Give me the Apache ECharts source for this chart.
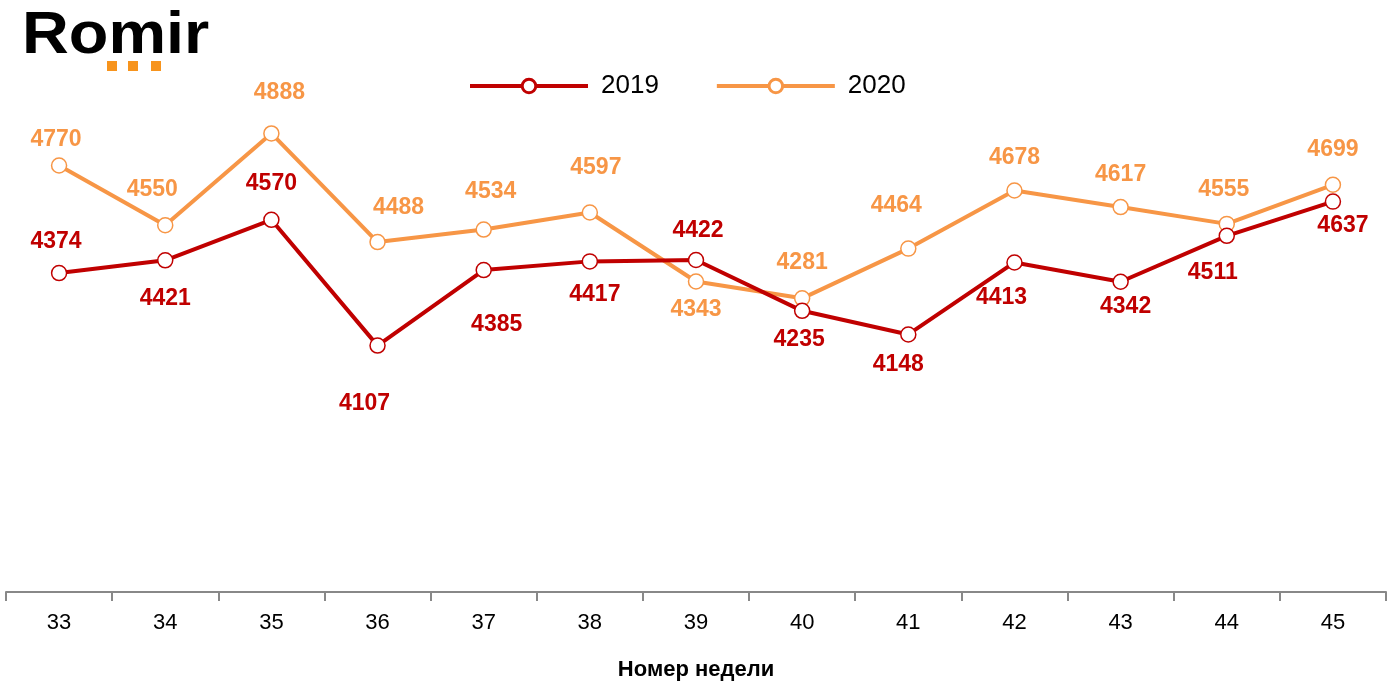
<!DOCTYPE html>
<html><head><meta charset="utf-8">
<script src="https://cdn.jsdelivr.net/npm/echarts@6/dist/echarts.min.js"></script>
<style>html,body{margin:0;padding:0;background:#fff}#c{width:1393px;height:699px}</style>
</head><body><div id="c"></div>
<script>
const weeks = ['33','34','35','36','37','38','39','40','41','42','43','44','45'];
const values2019 = [4374,4421,4570,4107,4385,4417,4422,4235,4148,4413,4342,4511,4637];
const values2020 = [4770,4550,4888,4488,4534,4597,4343,4281,4464,4678,4617,4555,4699];
const seriesNames = ['2019','2020'];
const axisTitle = 'Номер недели';

// label offsets (style only)
const off2019 = [[-3,-31],[0,38],[0,-36],[-13,58],[13,55],[5,33],[2,-29],[-3,29],[-10,30],[-13,35],[5,25],[-14,37],[10,24]];
const off2020 = [[-3,-26],[-13,-36],[8,-41],[21,-34],[7,-38],[6,-45],[0,28],[0,-36],[-12,-43],[0,-33],[0,-32],[-3,-34],[0,-35]];

const C19 = '#C00000', C20 = '#F79646';
function mk(vals, offs, color){
  return vals.map((v,i)=>({value:v,label:{show:true,position:'inside',offset:offs[i],color:color,fontWeight:'bold',fontSize:23,fontFamily:'Liberation Sans, Arial, sans-serif'}}));
}
const chart = echarts.init(document.getElementById('c'));
chart.setOption({
  animation:false,
  backgroundColor:'#fff',
  grid:{left:6,right:7,top:103,bottom:107},
  legend:{
    top:68,left:463,itemWidth:118,itemHeight:17,itemGap:56,
    lineStyle:{width:4},
    itemStyle:{borderWidth:3},
    textStyle:{fontSize:26,color:'#000',fontFamily:'Liberation Sans, Arial, sans-serif',padding:[0,0,0,8]},
    data:seriesNames
  },
  xAxis:{
    type:'category',data:weeks,boundaryGap:true,
    axisLine:{lineStyle:{color:'#888',width:2}},
    axisTick:{show:true,length:9,lineStyle:{color:'#888',width:2}},
    axisLabel:{color:'#000',fontSize:22,margin:20,fontFamily:'Liberation Sans, Arial, sans-serif'},
    name:axisTitle,nameLocation:'middle',nameGap:67,
    nameTextStyle:{fontSize:22,fontWeight:'bold',color:'#000',fontFamily:'Liberation Sans, Arial, sans-serif'}
  },
  yAxis:{type:'value',min:3200,max:5000,show:false,splitLine:{show:false}},
  series:[
    {name:seriesNames[0],type:'line',data:mk(values2019,off2019,C19),symbol:'circle',symbolSize:15,
     lineStyle:{color:C19,width:4},itemStyle:{color:'#fff',borderColor:C19,borderWidth:1.5},z:3},
    {name:seriesNames[1],type:'line',data:mk(values2020,off2020,C20),symbol:'circle',symbolSize:15,
     lineStyle:{color:C20,width:4},itemStyle:{color:'#fff',borderColor:C20,borderWidth:1.5},z:2}
  ],
  graphic:[
    {type:'text',left:22,top:6,style:{text:'Romir',font:'bold 60px "Liberation Sans", Arial, sans-serif',fill:'#000'},scaleX:1.08},
    {type:'rect',shape:{x:107,y:61,width:10,height:10},style:{fill:'#F7941D'}},
    {type:'rect',shape:{x:128,y:61,width:10,height:10},style:{fill:'#F7941D'}},
    {type:'rect',shape:{x:151,y:61,width:10,height:10},style:{fill:'#F7941D'}}
  ]
});
</script></body></html>
